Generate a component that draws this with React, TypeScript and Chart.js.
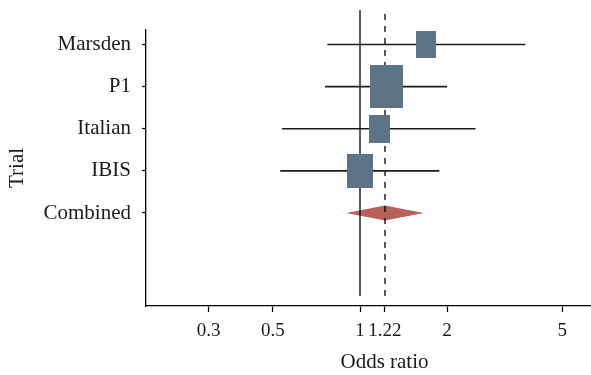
import React, { useEffect, useRef } from "react";
import { Chart, registerables } from "chart.js";

Chart.register(...registerables);

// ---- data ----
const trials = ["Marsden", "P1", "Italian", "IBIS"];
const oddsRatio = [1.69, 1.234, 1.167, 1.0];
const lowerCI = [0.771, 0.757, 0.538, 0.53];
const upperCI = [3.73, 2.0, 2.506, 1.88];
const weights = [16, 41, 17, 26];
const combinedLabel = "Combined";
const combinedOR = [1.22];
const combinedLower = [0.895];
const combinedUpper = [1.66];
const xTicks = [0.3, 0.5, 1, 1.22, 2, 5];
const rowLabels = [...trials, combinedLabel];

// ---- styles ----
const BOX_COLOR = "#5d7486";
const DIAMOND_COLOR = "#b5625a";
const LINE_COLOR = "#1c1c1c";
const FONT = "'Liberation Serif', 'DejaVu Serif', serif";
const FONT_SIZE = 21;
const X_TICK_SIZE = 19;
const DIAMOND_HALF = 0.18;
const REF_SPAN = [-0.97, 5.82];
const X_MIN = 0.1822;
const X_MAX = 8.105;
const CANVAS_W = 624; // panel continues past the visible 591px, as in the cropped original

const rowY = (i: number) => rowLabels.length - i;

function makeBox(w: number, h: number, color: string) {
  const c = document.createElement("canvas");
  c.width = Math.max(1, Math.round(w));
  c.height = Math.max(1, Math.round(h));
  const ctx = c.getContext("2d")!;
  ctx.fillStyle = color;
  ctx.fillRect(0, 0, c.width, c.height);
  return c;
}

export default function App() {
  const ref = useRef<HTMLCanvasElement | null>(null);

  useEffect(() => {
    document.body.style.margin = "0";
    document.body.style.overflow = "hidden";
    const canvas = ref.current;
    if (!canvas) return;

    const maxW = Math.max(...weights);
    const boxes = weights.map((w) => {
      const h = 43 * Math.sqrt(w / maxW);
      return makeBox(h * 0.76, h, BOX_COLOR);
    });

    const combinedY = rowY(trials.length);

    const datasets: any[] = [];
    // boxes (on top)
    datasets.push({
      type: "scatter",
      data: trials.map((_, i) => ({ x: oddsRatio[i], y: rowY(i) })),
      pointStyle: boxes,
      pointRadius: 10,
      showLine: false,
      clip: false,
    });
    // error bars
    trials.forEach((_, i) => {
      datasets.push({
        type: "scatter",
        data: [
          { x: lowerCI[i], y: rowY(i) },
          { x: upperCI[i], y: rowY(i) },
        ],
        showLine: true,
        borderColor: LINE_COLOR,
        borderWidth: 1.6,
        pointRadius: 0,
        fill: false,
      });
    });
    // reference lines
    datasets.push({
      type: "scatter",
      data: [
        { x: 1, y: REF_SPAN[0] },
        { x: 1, y: REF_SPAN[1] },
      ],
      showLine: true,
      borderColor: "#000",
      borderWidth: 1.3,
      pointRadius: 0,
      clip: false,
      fill: false,
    });
    datasets.push({
      type: "scatter",
      data: [
        { x: combinedOR[0], y: REF_SPAN[0] },
        { x: combinedOR[0], y: REF_SPAN[1] },
      ],
      showLine: true,
      borderColor: "#000",
      borderWidth: 1.3,
      borderDash: [6, 6],
      pointRadius: 0,
      clip: false,
      fill: false,
    });
    // diamond (upper half filled to lower half)
    datasets.push({
      type: "scatter",
      data: [
        { x: combinedLower[0], y: combinedY },
        { x: combinedOR[0], y: combinedY + DIAMOND_HALF },
        { x: combinedUpper[0], y: combinedY },
      ],
      showLine: true,
      borderWidth: 0,
      borderColor: "rgba(0,0,0,0)",
      pointRadius: 0,
      fill: "+1",
      backgroundColor: DIAMOND_COLOR,
      tension: 0,
    });
    datasets.push({
      type: "scatter",
      data: [
        { x: combinedLower[0], y: combinedY },
        { x: combinedOR[0], y: combinedY - DIAMOND_HALF },
        { x: combinedUpper[0], y: combinedY },
      ],
      showLine: true,
      borderWidth: 0,
      borderColor: "rgba(0,0,0,0)",
      pointRadius: 0,
      fill: false,
      tension: 0,
    });

    const chart = new Chart(canvas, {
      type: "scatter",
      data: { datasets },
      options: {
        animation: false,
        responsive: false,
        events: [],
        layout: { autoPadding: false, padding: { top: 30, right: 1, left: 0, bottom: 0 } },
        plugins: {
          legend: { display: false },
          tooltip: { enabled: false },
        },
        scales: {
          x: {
            type: "logarithmic",
            min: X_MIN,
            max: X_MAX,
            afterBuildTicks: (axis: any) => {
              axis.ticks = xTicks.map((v) => ({ value: v }));
            },
            afterFit: (s: any) => {
              s.height = 69;
              s.paddingLeft = 0;
              s.paddingRight = 0;
            },
            ticks: {
              autoSkip: false,
              maxRotation: 0,
              minRotation: 0,
              padding: 8,
              color: "#1a1a1a",
              font: { family: FONT, size: X_TICK_SIZE },
              callback: (v: any) => String(v),
            },
            grid: {
              drawOnChartArea: false,
              drawTicks: true,
              tickLength: 6,
              tickColor: "#000",
              tickWidth: 1.2,
            },
            border: { display: true, color: "#000", width: 1.3 },
            title: {
              display: true,
              text: "Odds ratio",
              color: "#1a1a1a",
              font: { family: FONT, size: FONT_SIZE },
              padding: { top: 0, bottom: 0 },
            },
          },
          y: {
            type: "linear",
            min: -1.208,
            max: 5.344,
            afterBuildTicks: (axis: any) => {
              axis.ticks = rowLabels.map((_, i) => ({ value: rowY(i) }));
            },
            afterFit: (s: any) => {
              s.width = 146;
              s.paddingTop = 0;
              s.paddingBottom = 0;
            },
            ticks: {
              autoSkip: false,
              padding: 11,
              color: "#1a1a1a",
              font: { family: FONT, size: FONT_SIZE },
              callback: (v: any) => rowLabels[rowLabels.length - Number(v)] ?? "",
            },
            grid: {
              drawOnChartArea: false,
              drawTicks: true,
              tickLength: 4,
              tickColor: "#000",
              tickWidth: 1.2,
            },
            border: { display: true, color: "#000", width: 1.3 },
            title: {
              display: true,
              text: "Trial",
              color: "#1a1a1a",
              font: { family: FONT, size: FONT_SIZE },
              padding: { top: 5, bottom: 0 },
            },
          },
        },
      } as any,
    });

    return () => chart.destroy();
  }, []);

  return (
    <div style={{ width: 591, height: 375, overflow: "hidden" }}>
      <canvas ref={ref} width={CANVAS_W} height={375} style={{ display: "block" }} />
    </div>
  );
}
